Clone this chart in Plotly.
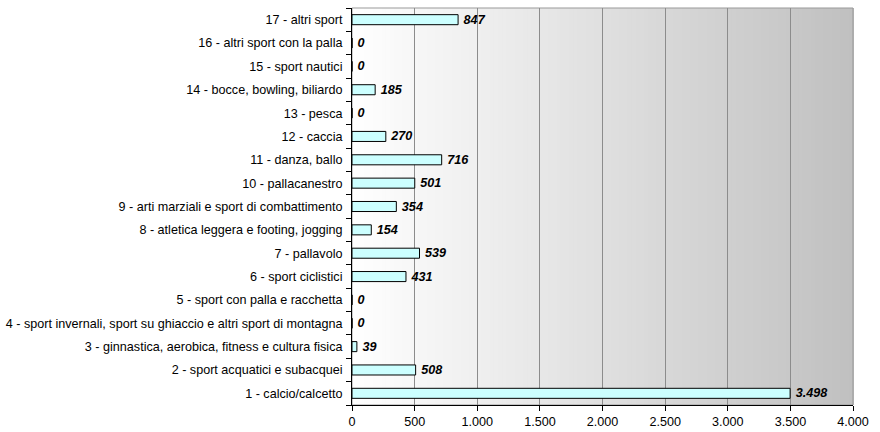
import plotly.graph_objects as go

categories = [
    "1 - calcio/calcetto",
    "2 - sport acquatici e subacquei",
    "3 - ginnastica, aerobica, fitness e cultura fisica",
    "4 - sport invernali, sport su ghiaccio e altri sport di montagna",
    "5 - sport con palla e racchetta",
    "6 - sport ciclistici",
    "7 - pallavolo",
    "8 - atletica leggera e footing, jogging",
    "9 - arti marziali e sport di combattimento",
    "10 - pallacanestro",
    "11 - danza, ballo",
    "12 - caccia",
    "13 - pesca",
    "14 - bocce, bowling, biliardo",
    "15 - sport nautici",
    "16 - altri sport con la palla",
    "17 - altri sport",
]
values = [3498, 508, 39, 0, 0, 431, 539, 154, 354, 501, 716, 270, 0, 185, 0, 0, 847]
x_ticks = [0, 500, 1000, 1500, 2000, 2500, 3000, 3500, 4000]

FONT = "Liberation Sans, Arial, sans-serif"
FS = 12.6

fig = go.Figure(go.Bar(
    x=values, y=categories, orientation="h",
    marker=dict(color="#ccffff", line=dict(color="black", width=1)),
    text=values, texttemplate="\u2009%{x:,.0f}", textposition="outside",
    constraintext="none",
    textfont=dict(family=FONT, size=FS, color="black", weight="bold", style="italic"),
    cliponaxis=False,
    hoverinfo="skip",
))

# gradient background (white -> grey) built from thin strips in axis-domain coords
N = 120
shapes = []
for i in range(N):
    f = (i + 0.5) / N
    c = int(round(255 - f * (255 - 192)))
    shapes.append(dict(type="rect", xref="x domain", yref="y domain",
                       x0=i / N, x1=(i + 1) / N + 0.002, y0=0, y1=1,
                       fillcolor=f"rgb({c},{c},{c})", line=dict(width=0), layer="below"))
# plot border (top/right grey)
shapes.append(dict(type="rect", xref="x domain", yref="y domain", x0=0, x1=1, y0=0, y1=1,
                   line=dict(color="#999999", width=1), fillcolor="rgba(0,0,0,0)", layer="below"))

fig.update_layout(
    template="none",
    width=880, height=432,
    margin=dict(l=352, r=27, t=8, b=27, autoexpand=False),
    paper_bgcolor="white", plot_bgcolor="rgba(0,0,0,0)",
    separators=",.",
    bargap=0.57,
    showlegend=False,
    shapes=shapes,
    font=dict(family=FONT, size=FS, color="black"),
)
fig.update_xaxes(
    range=[0, 4000], tickvals=x_ticks, separatethousands=True, tickformat=",d",
    showgrid=True, gridcolor="#8c8c8c", gridwidth=1,
    showline=True, linecolor="black", linewidth=1,
    ticks="outside", ticklen=5, tickcolor="black",
    zeroline=False, fixedrange=True, automargin=False,
    tickfont=dict(family=FONT, size=FS, color="black"),
)
fig.update_yaxes(
    type="category", categoryorder="array", categoryarray=categories,
    showline=True, linecolor="black", linewidth=1,
    ticks="outside", tickson="boundaries", ticklen=5, tickcolor="black",
    ticklabelstandoff=6,
    showgrid=False, fixedrange=True, automargin=False,
    tickfont=dict(family=FONT, size=FS, color="black"),
)

fig.write_html("out.html",
               config={"displayModeBar": False},
               post_script="document.body.style.margin='0';document.body.style.overflow='hidden';")
